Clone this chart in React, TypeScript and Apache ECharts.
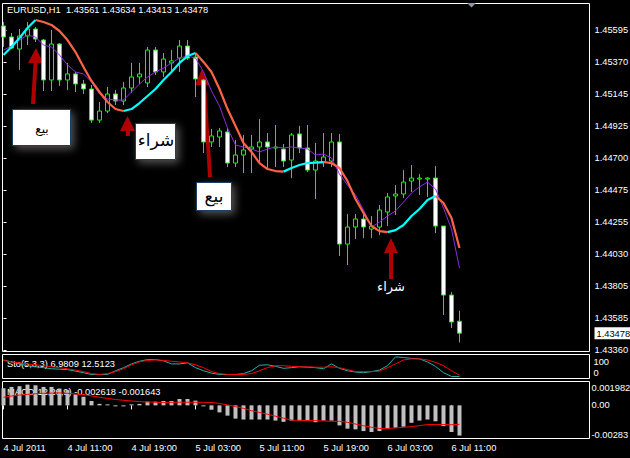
import React, { useEffect, useRef } from "react";
import * as echarts from "echarts";

// ---------- data ----------
const timeLabels = ["4 Jul 2011", "4 Jul 11:00", "4 Jul 19:00", "5 Jul 03:00", "5 Jul 11:00", "5 Jul 19:00", "6 Jul 03:00", "6 Jul 11:00"];
const timeTickIndex = [0, 8, 16, 24, 32, 40, 48, 56];
const priceTicks = [1.45595, 1.4537, 1.45145, 1.44925, 1.447, 1.44475, 1.44255, 1.4403, 1.43805, 1.43585, 1.4336];
const lastPrice = 1.43478;
const stochTicks = [0, 100];
const macdTicks = [0.001982, 0, -0.00283];

const opens = [
  1.45623, 1.45546, 1.45462, 1.45553, 1.45602, 1.45525, 1.45246, 1.45497, 1.45246, 1.45288,
  1.45218, 1.45183, 1.44966, 1.45029, 1.45148, 1.45099, 1.4519, 1.45267, 1.45225, 1.45455,
  1.45302, 1.45365, 1.45399, 1.45483, 1.45406, 1.45246, 1.44813, 1.44848, 1.44883, 1.44666,
  1.44722, 1.44764, 1.44778, 1.44813, 1.44771, 1.44764, 1.44687, 1.44869, 1.44771, 1.44617,
  1.44673, 1.4468, 1.44813, 1.441, 1.44219, 1.44275, 1.44205, 1.44219, 1.44324, 1.44436,
  1.4445, 1.4454, 1.44554, 1.44554, 1.44561, 1.44226, 1.43744, 1.43561,
];
const closes = [
  1.45546, 1.45469, 1.45553, 1.45602, 1.45532, 1.45246, 1.45497, 1.45246, 1.45288, 1.45218,
  1.45183, 1.44966, 1.45029, 1.45148, 1.45099, 1.4519, 1.45267, 1.45288, 1.45455, 1.45302,
  1.45392, 1.45379, 1.45483, 1.45399, 1.45253, 1.44813, 1.44855, 1.4489, 1.44666, 1.44722,
  1.44757, 1.44778, 1.44813, 1.44778, 1.44778, 1.4468, 1.44862, 1.44771, 1.44617, 1.4468,
  1.44708, 1.44813, 1.441, 1.44219, 1.44275, 1.44219, 1.44226, 1.44338, 1.44429, 1.4445,
  1.44533, 1.44561, 1.44561, 1.44561, 1.44226, 1.43744, 1.43556, 1.43478,
];
const highs = [
  1.45651, 1.45574, 1.45602, 1.45651, 1.45616, 1.45532, 1.45595, 1.45504, 1.45365, 1.45302,
  1.45246, 1.45211, 1.45092, 1.45197, 1.45176, 1.45232, 1.45365, 1.45365, 1.45476, 1.45476,
  1.45434, 1.45455, 1.45525, 1.45525, 1.45427, 1.45253, 1.44904, 1.44911, 1.44911, 1.44827,
  1.44862, 1.44862, 1.44973, 1.44876, 1.44932, 1.44799, 1.44876, 1.44925, 1.44932, 1.44806,
  1.44876, 1.44876, 1.44869, 1.4431, 1.4431, 1.44317, 1.44296, 1.44373, 1.44457, 1.44512,
  1.44617, 1.44652, 1.44589, 1.44568, 1.44645, 1.44226, 1.43765, 1.43634,
];
const lows = [
  1.45476, 1.45462, 1.45316, 1.4549, 1.45511, 1.45169, 1.45169, 1.45204, 1.45176, 1.45162,
  1.45148, 1.44946, 1.44946, 1.45015, 1.45071, 1.45071, 1.45155, 1.45218, 1.45197, 1.45281,
  1.45267, 1.45302, 1.45302, 1.45386, 1.45127, 1.44736, 1.44778, 1.44778, 1.44638, 1.44638,
  1.44596, 1.44596, 1.44666, 1.44631, 1.44638, 1.44638, 1.44561, 1.44736, 1.44603, 1.44415,
  1.44638, 1.44638, 1.44017, 1.43954, 1.44135, 1.44142, 1.44142, 1.44163, 1.44226, 1.44303,
  1.44422, 1.44464, 1.44443, 1.44429, 1.44177, 1.43605, 1.43514, 1.43413,
];
const trendMA = [
  1.4542, 1.45476, 1.45539, 1.45609, 1.45665, 1.45651, 1.4563, 1.45588, 1.45525, 1.45441,
  1.45337, 1.45239, 1.45162, 1.45092, 1.45043, 1.45029, 1.45043, 1.45085, 1.45134, 1.45183,
  1.45246, 1.45302, 1.45365, 1.45413, 1.45434, 1.45372, 1.45302, 1.45183, 1.45043, 1.44925,
  1.44806, 1.44743, 1.44666, 1.44624, 1.4461, 1.44606, 1.44631, 1.44652, 1.44666, 1.44669,
  1.44673, 1.44666, 1.44631, 1.4454, 1.44415, 1.44317, 1.44226, 1.44191, 1.44184, 1.44198,
  1.44233, 1.44296, 1.44345, 1.44408, 1.44436, 1.44387, 1.44282, 1.44073,
];
const fastMA = [
  1.45455, 1.45483, 1.45525, 1.4556, 1.45546, 1.4549, 1.45476, 1.4542, 1.45351, 1.45302,
  1.45288, 1.45232, 1.45148, 1.45113, 1.45106, 1.45106, 1.45162, 1.45218, 1.45267, 1.45302,
  1.4533, 1.45365, 1.45399, 1.45413, 1.45399, 1.45302, 1.45169, 1.45064, 1.44911, 1.44792,
  1.44778, 1.44764, 1.44743, 1.44764, 1.44778, 1.44771, 1.44778, 1.44771, 1.44764, 1.44722,
  1.44729, 1.44701, 1.44589, 1.44512, 1.44443, 1.44338, 1.44219, 1.44254, 1.44296, 1.44331,
  1.44394, 1.44457, 1.44499, 1.44533, 1.44485, 1.44352, 1.44205, 1.43933,
];
const stochMain = [
  82, 73, 64, 56, 51, 47, 42, 40, 38, 31,
  24, 16, 16, 16, 33, 47, 64, 76, 84, 84,
  78, 64, 64, 69, 47, 33, 22, 16, 16, 16,
  20, 33, 58, 60, 53, 44, 47, 51, 49, 47,
  42, 64, 44, 33, 27, 24, 29, 36, 56, 96,
  93, 89, 87, 73, 53, 24, 7, 6.9809,
];
const stochSignal = [
  80, 73, 69, 64, 60, 56, 51, 47, 42, 36,
  29, 20, 16, 20, 29, 42, 60, 73, 80, 82,
  80, 76, 73, 69, 60, 47, 29, 20, 16, 16,
  16, 20, 33, 47, 56, 56, 53, 51, 51, 49,
  49, 51, 47, 38, 29, 29, 29, 31, 47, 64,
  82, 87, 87, 82, 71, 56, 33, 12.5123,
];
const macdHist = [
  0.00149, 0.0016, 0.00166, 0.0018, 0.00174, 0.0016, 0.0016, 0.00146, 0.00132, 0.00095,
  0.00075, 0.00038, 0.00013, 0.00003, -0.00003, -0.00002, 0.00002, 0.00013, 0.00032, 0.00032,
  0.00038, 0.00038, 0.00055, 0.00055, 0.00041, -0.00005, -0.00038, -0.00061, -0.00089, -0.00115,
  -0.00123, -0.00123, -0.00123, -0.00123, -0.00132, -0.00143, -0.00132, -0.00132, -0.00132, -0.00146,
  -0.00132, -0.00132, -0.00174, -0.00202, -0.00208, -0.00223, -0.00231, -0.00223, -0.00202, -0.00194,
  -0.00185, -0.00151, -0.00132, -0.00123, -0.00138, -0.0018, -0.00231, -0.002618,
];
const macdSignal = [
  0.0007, 0.00081, 0.00089, 0.00095, 0.00101, 0.00105, 0.00106, 0.00108, 0.00105, 0.00098,
  0.00093, 0.00082, 0.00071, 0.0006, 0.00051, 0.00044, 0.00038, 0.00033, 0.0003, 0.00026,
  0.00025, 0.00026, 0.00027, 0.00027, 0.00027, 0.00026, 0.00025, 0.00017, 0.00004, -0.00011,
  -0.00026, -0.00047, -0.00061, -0.00077, -0.00094, -0.00111, -0.00128, -0.0013, -0.00132, -0.00132,
  -0.00135, -0.00138, -0.00138, -0.00147, -0.00162, -0.00177, -0.0019, -0.002, -0.00201, -0.00196,
  -0.0019, -0.00184, -0.00176, -0.00166, -0.00166, -0.00166, -0.00168, -0.001643,
];

// ---------- style ----------
const UI_FONT = "'Liberation Sans', Arial, sans-serif";
const AR_FONT = "'DejaVu Sans', 'Noto Sans', sans-serif";
const FS = 9.3;
const XMIN = -0.125;
const XMAX = 73.25;
const ARROW = "#b00000";

export default function App() {
  const ref = useRef<HTMLDivElement>(null);

  useEffect(() => {
    if (!ref.current) return;
    const chart = echarts.init(ref.current, null, { renderer: "svg" });
    const n = closes.length;
    const idx = closes.map((_, i) => i);
    const candleData = idx.map((i) => [i, opens[i], closes[i], lows[i], highs[i]]);
    const up: any[] = [];
    const down: any[] = [];
    for (let i = 0; i < n; i++) {
      const prevUp = i > 0 && trendMA[i] > trendMA[i - 1];
      const prevDown = i > 0 && trendMA[i] <= trendMA[i - 1];
      const nextUp = i < n - 1 && trendMA[i + 1] > trendMA[i];
      const nextDown = i < n - 1 && trendMA[i + 1] <= trendMA[i];
      up.push([i, prevUp || nextUp ? trendMA[i] : null]);
      down.push([i, prevDown || nextDown ? trendMA[i] : null]);
    }
    const pairs = (arr: number[]) => arr.map((v, i) => [i, v]);

    const xAx = (g: number) => ({
      type: "value",
      gridIndex: g,
      min: XMIN,
      max: XMAX,
      show: g === 2,
      axisLine: { show: false },
      splitLine: { show: false },
      axisTick: { show: true, customValues: timeTickIndex, length: 4, lineStyle: { color: "#fff" } },
      axisLabel: {
        customValues: timeTickIndex,
        formatter: (v: number) => timeLabels[timeTickIndex.indexOf(v)] ?? "",
        align: "left",
        color: "#fff",
        fontSize: FS,
        fontFamily: UI_FONT,
        margin: 5,
      },
    });

    const boxStyle = {
      fill: "#fff",
      stroke: "#1f3d6b",
      lineWidth: 1,
      shadowBlur: 8,
      shadowColor: "rgba(190,190,190,0.45)",
      shadowOffsetX: 3,
      shadowOffsetY: 3,
    };

    const gridBase = {
      left: 2.5,
      width: 587,
      show: true,
      borderColor: "#fff",
      borderWidth: 1,
      backgroundColor: "transparent",
      containLabel: false,
      outerBoundsMode: "none",
    };

    chart.setOption({
      animation: false,
      backgroundColor: "#000",
      grid: [
        { ...gridBase, top: 3.5, height: 348 },
        { ...gridBase, top: 354.5, height: 24 },
        { ...gridBase, top: 381.5, height: 57 },
      ],
      xAxis: [xAx(0), xAx(1), xAx(2)],
      yAxis: [
        {
          type: "value",
          gridIndex: 0,
          position: "right",
          min: 1.4335,
          max: 1.4578,
          axisLine: { show: false },
          splitLine: { show: false },
          axisTick: { show: true, customValues: priceTicks, length: 3, lineStyle: { color: "#fff" } },
          axisLabel: {
            customValues: [...priceTicks, lastPrice],
            formatter: (v: number) => (v === lastPrice ? `{cur|${v.toFixed(5)}}` : v.toFixed(5)),
            color: "#fff",
            margin: 5,
            fontSize: FS,
            fontFamily: UI_FONT,
            rich: {
              cur: { backgroundColor: "#fff", color: "#000", padding: [2, 2, 1, 2], fontSize: FS, fontFamily: UI_FONT },
            },
          },
        },
        {
          type: "value",
          gridIndex: 1,
          position: "right",
          min: -2.27,
          max: 106.8,
          axisLine: { show: false },
          splitLine: { show: false },
          axisTick: { show: false },
          axisLabel: {
            customValues: stochTicks,
            formatter: (v: number) => (v === 100 ? `{t|${v}}` : `{b|${v}}`),
            color: "#fff",
            margin: 4,
            fontSize: FS,
            fontFamily: UI_FONT,
            rich: {
              t: { padding: [12, 0, 0, 0], fontSize: FS, fontFamily: UI_FONT, color: "#fff" },
              b: { padding: [0, 0, 10, 0], fontSize: FS, fontFamily: UI_FONT, color: "#fff" },
            },
          },
        },
        {
          type: "value",
          gridIndex: 2,
          position: "right",
          min: -0.002873,
          max: 0.002069,
          axisLine: { show: false },
          splitLine: { show: false },
          axisTick: { show: false },
          axisLabel: {
            customValues: macdTicks,
            formatter: (v: number) =>
              v > 0 ? `{t|${v.toFixed(6)}}` : v < 0 ? `{b|${v.toFixed(5)}}` : v.toFixed(2),
            color: "#fff",
            margin: 2,
            fontSize: FS,
            fontFamily: UI_FONT,
            rich: {
              t: { padding: [11, 0, 0, 0], fontSize: FS, fontFamily: UI_FONT, color: "#fff" },
              b: { padding: [0, 0, 7, 0], fontSize: FS, fontFamily: UI_FONT, color: "#fff" },
            },
          },
        },
      ],
      series: [
        {
          type: "candlestick",
          xAxisIndex: 0,
          yAxisIndex: 0,
          data: candleData,
          encode: { x: 0, y: [1, 2, 3, 4] },
          barWidth: 4,
          silent: true,
          itemStyle: { color: "#000", color0: "#fff", borderColor: "#00ff00", borderColor0: "#00ff00", borderWidth: 1 },
          markLine: {
            silent: true,
            symbol: ["none", "none"],
            label: { show: false },
            lineStyle: { color: "#a0a0a8", width: 1, type: "solid" },
            data: [{ yAxis: lastPrice }],
          },
        },
        {
          type: "line",
          xAxisIndex: 0,
          yAxisIndex: 0,
          data: pairs(fastMA),
          showSymbol: false,
          silent: true,
          lineStyle: { color: "#8a2be2", width: 1 },
        },
        {
          type: "line",
          xAxisIndex: 0,
          yAxisIndex: 0,
          data: down,
          showSymbol: false,
          silent: true,
          connectNulls: false,
          lineStyle: { color: "#ff6347", width: 2.2 },
        },
        {
          type: "line",
          xAxisIndex: 0,
          yAxisIndex: 0,
          data: up,
          showSymbol: false,
          silent: true,
          connectNulls: false,
          lineStyle: { color: "#00ffff", width: 2.2 },
        },
        {
          type: "line",
          xAxisIndex: 1,
          yAxisIndex: 1,
          data: pairs(stochMain),
          showSymbol: false,
          silent: true,
          lineStyle: { color: "#20b2aa", width: 1 },
        },
        {
          type: "line",
          xAxisIndex: 1,
          yAxisIndex: 1,
          data: pairs(stochSignal),
          showSymbol: false,
          silent: true,
          lineStyle: { color: "#ff0000", width: 1 },
        },
        {
          type: "bar",
          xAxisIndex: 2,
          yAxisIndex: 2,
          data: pairs(macdHist),
          barWidth: 4,
          barMinHeight: 1,
          silent: true,
          itemStyle: { color: "#c0c0c0" },
        },
        {
          type: "line",
          xAxisIndex: 2,
          yAxisIndex: 2,
          data: pairs(macdSignal),
          showSymbol: false,
          silent: true,
          lineStyle: { color: "#ff0000", width: 1 },
        },
      ],
      graphic: [
        {
          type: "text",
          silent: true,
          style: {
            text: "EURUSD,H1  1.43561 1.43634 1.43413 1.43478",
            x: 7,
            y: 10,
            fill: "#fff",
            fontSize: FS,
            fontFamily: UI_FONT,
            verticalAlign: "middle",
          },
        },
        {
          type: "text",
          silent: true,
          style: { text: "Sto(5,3,3) 6.9809 12.5123", x: 7, y: 364, fill: "#fff", fontSize: FS, fontFamily: UI_FONT, verticalAlign: "middle" },
        },
        {
          type: "text",
          silent: true,
          style: { text: "MACD(12,26,9) -0.002618 -0.001643", x: 7, y: 391.5, fill: "#fff", fontSize: FS, fontFamily: UI_FONT, verticalAlign: "middle" },
        },
        {
          type: "polygon",
          silent: true,
          shape: { points: [[467, 3], [476, 3], [471.5, 7.5]] },
          style: { fill: "#8a96a6" },
        },
        // arrows
        {
          type: "polygon",
          silent: true,
          shape: { points: [[36, 48], [43, 63], [37.5, 63], [35, 104], [31, 104], [33.5, 63], [28, 63]] },
          style: { fill: ARROW },
        },
        {
          type: "polygon",
          silent: true,
          shape: { points: [[127.5, 116], [135, 131], [130, 131], [130, 136], [126, 136], [126, 131], [120, 131]] },
          style: { fill: ARROW },
        },
        {
          type: "polygon",
          silent: true,
          shape: { points: [[202, 69], [209.5, 85], [206, 85], [212, 177], [208, 177], [202.5, 85], [195, 85]] },
          style: { fill: ARROW },
        },
        {
          type: "polygon",
          silent: true,
          shape: { points: [[391, 238], [398, 253], [393, 253], [393, 279], [389, 279], [389, 253], [384, 253]] },
          style: { fill: ARROW },
        },
        // boxes
        { type: "rect", silent: true, shape: { x: 12.5, y: 109.5, width: 58, height: 36 }, style: boxStyle },
        { type: "rect", silent: true, shape: { x: 135.5, y: 123.5, width: 40, height: 36 }, style: boxStyle },
        { type: "rect", silent: true, shape: { x: 196.5, y: 182.5, width: 35, height: 28 }, style: boxStyle },
        {
          type: "text",
          silent: true,
          style: { text: "بيع", x: 42, y: 129, fill: "#000", fontSize: 12, fontFamily: AR_FONT, align: "center", verticalAlign: "middle" },
        },
        {
          type: "text",
          silent: true,
          style: { text: "شراء", x: 156, y: 140, fill: "#000", fontSize: 17, fontFamily: AR_FONT, align: "center", verticalAlign: "middle" },
        },
        {
          type: "text",
          silent: true,
          style: { text: "بيع", x: 214, y: 196, fill: "#000", fontSize: 17, fontFamily: AR_FONT, align: "center", verticalAlign: "middle" },
        },
        {
          type: "text",
          silent: true,
          style: { text: "شراء", x: 391, y: 286, fill: "#fff", fontSize: 13, fontFamily: AR_FONT, align: "center", verticalAlign: "middle" },
        },
      ],
    });

    return () => {
      chart.dispose();
    };
  }, []);

  return (
    <div
      ref={ref}
      style={{ position: "fixed", left: 0, top: 0, width: 630, height: 458, background: "#000" }}
    />
  );
}
